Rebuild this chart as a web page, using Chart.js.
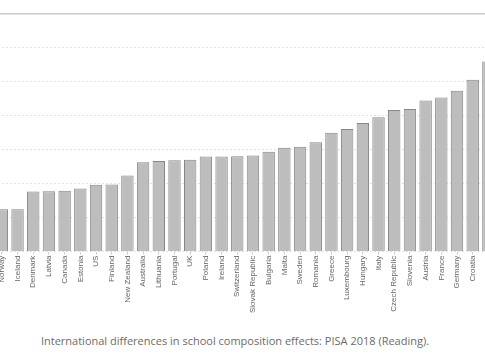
<!DOCTYPE html>
<html>
<head>
<meta charset="utf-8">
<script src="https://cdn.jsdelivr.net/npm/chart.js@4"></script>
<style>
  html, body { margin: 0; padding: 0; background: #fff; }
  #frame { position: relative; width: 485px; height: 360px; overflow: hidden; }
  #plot { position: absolute; left: -6px; top: 0; width: 505px; height: 314px; }
  #caption {
    position: absolute; left: 0; top: 333px; width: 470px; text-align: center;
    font-family: 'Open Sans', sans-serif; font-size: 11px; color: #6b6b6b;
  }
</style>
</head>
<body>
<div id="frame">
  <div id="plot"><canvas id="chart"></canvas></div>
  <div id="caption">International differences in school composition effects: PISA 2018 (Reading).</div>
</div>
<script>
// ── Data ─────────────────────────────────────────────────────────────────────
const countries = [
  'Norway', 'Iceland', 'Denmark', 'Latvia', 'Canada', 'Estonia', 'US', 'Finland',
  'New Zealand', 'Australia', 'Lithuania', 'Portugal', 'UK', 'Poland', 'Ireland',
  'Switzerland', 'Slovak Republic', 'Bulgaria', 'Malta', 'Sweden', 'Romania',
  'Greece', 'Luxembourg', 'Hungary', 'Italy', 'Czech Republic', 'Slovenia',
  'Austria', 'France', 'Germany', 'Croatia', 'Belgium'
];
const effects = [
  12.5, 12.5, 17.7, 17.8, 17.9, 18.6, 19.7, 19.8,
  22.4, 26.3, 26.7, 26.9, 27.1, 28.0, 28.0,
  28.1, 28.3, 29.4, 30.6, 30.9, 32.2,
  35.0, 36.1, 37.9, 39.6, 41.7, 42.0,
  44.5, 45.4, 47.4, 50.6, 56.0
];
const yMax = 70;
const yStep = 10;

// ── Chart ────────────────────────────────────────────────────────────────────
new Chart(document.getElementById('chart'), {
  type: 'bar',
  data: {
    labels: countries,
    datasets: [{
      data: effects,
      backgroundColor: '#bdbdbd',
      borderColor: '#878787',
      borderWidth: 1,
      barPercentage: 0.79,
      categoryPercentage: 1.0,
    }],
  },
  options: {
    responsive: true, maintainAspectRatio: false, animation: false,
    layout: { padding: { top: 14, left: 0, right: 0, bottom: 0 } },
    plugins: { legend: { display: false }, tooltip: { enabled: false } },
    scales: {
      x: {
        offset: true,
        grid: { display: true, drawOnChartArea: false, offset: false, tickLength: 3, color: '#cfcfcf' },
        border: { display: false },
        ticks: {
          color: '#666', autoSkip: false, maxRotation: 90, minRotation: 90, padding: 1,
          font: { family: 'Liberation Sans', size: 8 },
        },
      },
      y: {
        min: 0, max: yMax,
        ticks: { display: false, stepSize: yStep },
        border: {
          display: false,
          dash: (ctx) => (ctx.tick && ctx.tick.value === yMax ? [] : [2, 2]),
        },
        grid: {
          drawTicks: false,
          color: (ctx) => (ctx.tick && ctx.tick.value === yMax ? '#cccccc' : '#e2e2e2'),
          lineWidth: (ctx) => (ctx.tick && ctx.tick.value === yMax ? 1.5 : 1),
        },
      },
    },
  },
});
</script>
</body>
</html>
